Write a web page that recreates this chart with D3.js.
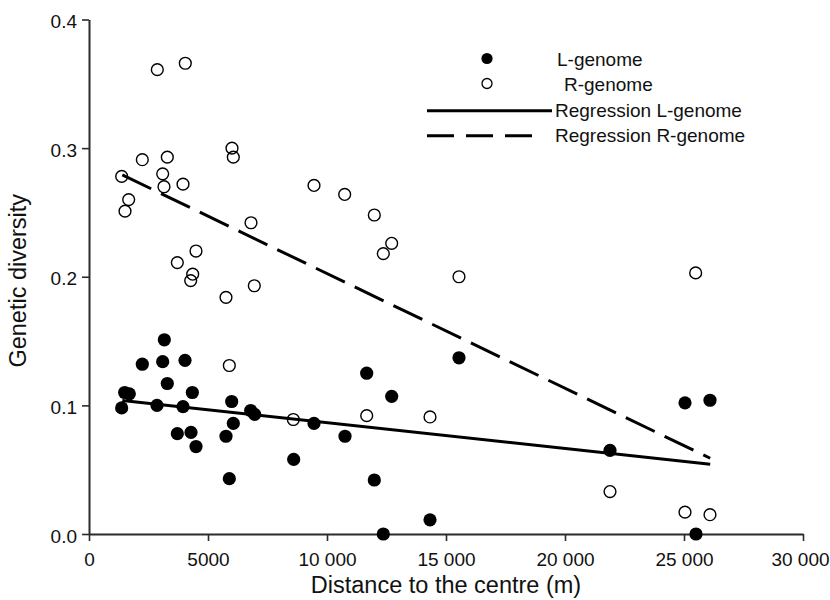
<!DOCTYPE html>
<html>
<head>
<meta charset="utf-8">
<script src="https://cdn.jsdelivr.net/npm/d3@7"></script>
<style>
  html, body { margin: 0; padding: 0; background: #fff; }
  svg { display: block; font-family: "Liberation Sans", Arial, Helvetica, sans-serif; }
</style>
</head>
<body>
<svg id="chart" width="830" height="600"></svg>
<script>
// Distance to the centre (m) and genetic diversity, L-genome samples
const lDistance = [1373, 1499, 1695, 2240, 2857, 3096, 3165, 3290, 3711, 3950, 4034,
  4286, 4342, 4496, 5756, 5896, 5995, 6063, 6794, 6962, 8600, 9454, 10756, 11668,
  11988, 12366, 12718, 14328, 15546, 21891, 25042, 25504, 26092];
const lDiversity = [0.098, 0.110, 0.109, 0.132, 0.100, 0.134, 0.151, 0.117, 0.078, 0.099, 0.135,
  0.079, 0.110, 0.068, 0.076, 0.043, 0.103, 0.086, 0.096, 0.093, 0.058, 0.086, 0.076, 0.125,
  0.042, 0.000, 0.107, 0.011, 0.137, 0.065, 0.102, 0.000, 0.104];

// R-genome samples
const rDistance = [1374, 1513, 1667, 2240, 2870, 3096, 3151, 3290, 3711, 3950, 4046,
  4273, 4357, 4496, 5756, 5896, 6008, 6063, 6807, 6946, 8585, 9454, 10743, 11668,
  11988, 12366, 12718, 14328, 15546, 21891, 25042, 25490, 26092];
const rDiversity = [0.278, 0.251, 0.260, 0.291, 0.361, 0.280, 0.270, 0.293, 0.211, 0.272, 0.366,
  0.197, 0.202, 0.220, 0.184, 0.131, 0.300, 0.293, 0.242, 0.193, 0.089, 0.271, 0.264, 0.092,
  0.248, 0.218, 0.226, 0.091, 0.200, 0.033, 0.017, 0.203, 0.015];

// Linear fits: diversity = intercept + slope * distance, over the sampled range
const fitRange = [1400, 26100];
const lFit = { intercept: 0.1066, slope: -2.008e-6 };
const rFit = { intercept: 0.2917, slope: -8.92e-6 };

const xTicks = [0, 5000, 10000, 15000, 20000, 25000, 30000];
const yTicks = [0.0, 0.1, 0.2, 0.3, 0.4];

const legendLabels = ["L-genome", "R-genome", "Regression L-genome", "Regression R-genome"];

const svg = d3.select("#chart");
const ink = "#000";
const axisInk = "#2b2b2b";

const x = d3.scaleLinear().domain([0, 30000]).range([89, 803]);
const y = d3.scaleLinear().domain([0, 0.4]).range([534, 19.5]);

const fmtX = v => v >= 10000 ? d3.format("d")(v).replace(/(\d+)(\d{3})$/, "$1 $2") : d3.format("d")(v);

// Axes
const xAxis = svg.append("g")
  .attr("transform", `translate(0,${y(0)})`)
  .call(d3.axisBottom(x).tickValues(xTicks).tickFormat(fmtX).tickSize(7).tickSizeOuter(0).tickPadding(11.5));
const yAxis = svg.append("g")
  .attr("transform", `translate(${x(0)},0)`)
  .call(d3.axisLeft(y).tickValues(yTicks).tickFormat(d3.format(".1f")).tickSize(7).tickSizeOuter(0).tickPadding(5));

[xAxis, yAxis].forEach(g => {
  g.select(".domain").attr("stroke", axisInk).attr("stroke-width", 2);
  g.selectAll(".tick line").attr("stroke", axisInk).attr("stroke-width", 1.6);
  g.selectAll(".tick text")
    .attr("fill", "#111")
    .style("font-size", "19px")
    .style("font-family", "'Liberation Sans', Arial, sans-serif");
});
yAxis.selectAll(".tick text").attr("dy", "0.43em");
// keep the last distance label inside the page edge
xAxis.selectAll(".tick text").filter(d => d === 30000).attr("dx", -3);

// Axis titles
svg.append("text")
  .attr("x", (x(0) + x(30000)) / 2)
  .attr("y", 593)
  .attr("text-anchor", "middle")
  .style("font-size", "23.5px")
  .attr("fill", "#111")
  .text("Distance to the centre (m)");

svg.append("text")
  .attr("transform", `translate(26,${(y(0) + y(0.4)) / 2 + 4}) rotate(-90)`)
  .attr("text-anchor", "middle")
  .style("font-size", "23.5px")
  .attr("fill", "#111")
  .text("Genetic diversity");

// Points
const lPts = lDistance.map((d, i) => ({ x: d, y: lDiversity[i] }));
const rPts = rDistance.map((d, i) => ({ x: d, y: rDiversity[i] }));

svg.append("g").selectAll("circle").data(rPts).join("circle")
  .attr("cx", d => x(d.x)).attr("cy", d => y(d.y)).attr("r", 5.9)
  .attr("fill", "none").attr("stroke", ink).attr("stroke-width", 1.4);

svg.append("g").selectAll("circle").data(lPts).join("circle")
  .attr("cx", d => x(d.x)).attr("cy", d => y(d.y)).attr("r", 6.6)
  .attr("fill", ink);

// Regression lines
const fitLine = fit => fitRange.map(d => [x(d), y(fit.intercept + fit.slope * d)]);
svg.append("path")
  .attr("d", d3.line()(fitLine(lFit)))
  .attr("fill", "none").attr("stroke", ink).attr("stroke-width", 3);
svg.append("path")
  .attr("d", d3.line()(fitLine(rFit)))
  .attr("fill", "none").attr("stroke", ink).attr("stroke-width", 3)
  .attr("stroke-dasharray", "32,11");

// Legend
const lg = svg.append("g").style("font-size", "19px").attr("fill", "#111");
lg.append("circle").attr("cx", 487).attr("cy", 58.5).attr("r", 5.6).attr("fill", ink);
lg.append("circle").attr("cx", 487).attr("cy", 83.5).attr("r", 5).attr("fill", "none")
  .attr("stroke", ink).attr("stroke-width", 1.3);
lg.append("line").attr("x1", 427).attr("x2", 552).attr("y1", 110.7).attr("y2", 110.7)
  .attr("stroke", ink).attr("stroke-width", 3);
lg.append("line").attr("x1", 427).attr("x2", 532).attr("y1", 135.7).attr("y2", 135.7)
  .attr("stroke", ink).attr("stroke-width", 3).attr("stroke-dasharray", "27,12");
lg.append("text").attr("x", 557).attr("y", 66).text(legendLabels[0]);
lg.append("text").attr("x", 564).attr("y", 91).text(legendLabels[1]);
lg.append("text").attr("x", 555).attr("y", 117.3).text(legendLabels[2]);
lg.append("text").attr("x", 555).attr("y", 142.3).text(legendLabels[3]);
</script>
</body>
</html>
